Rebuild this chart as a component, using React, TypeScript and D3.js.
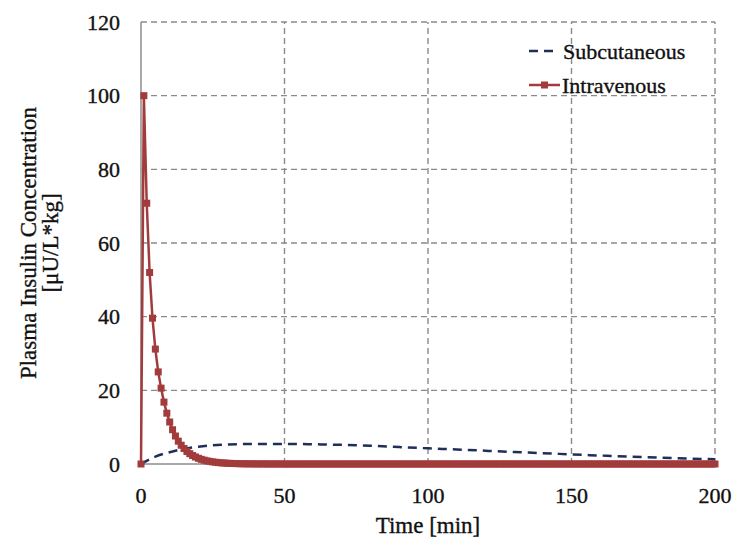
import React from "react";
import * as d3 from "d3";

// time axis ticks and value ticks
const xTicks = [0, 50, 100, 150, 200];
const yTicks = [0, 20, 40, 60, 80, 100, 120];

// subcutaneous curve, read every 5-10 min
const subTimes = [0, 5, 10, 15, 20, 25, 30, 40, 50, 60, 70, 80, 90, 100, 110, 120, 130, 140, 150, 160, 170, 180, 190, 200];
const subValues = [0, 2.0, 3.2, 4.1, 4.7, 5.1, 5.3, 5.45, 5.45, 5.35, 5.2, 4.95, 4.6, 4.25, 3.95, 3.6, 3.25, 2.95, 2.6, 2.3, 2.0, 1.75, 1.5, 1.3];

// intravenous curve, one marker per minute (0..200)
const ivValues = [
  0, 100, 70.8, 52, 39.6, 31.2, 25, 20.6, 16.8, 13.8,
  11.4, 9.3, 7.6, 6.2, 5.1, 4.2, 3.4, 2.8, 2.3, 1.9,
  1.55, 1.27, 1.04, 0.85, 0.7, 0.57, 0.47, 0.38, 0.31, 0.26,
  0.21, 0.17, 0.14, 0.11, 0.09, 0.07, 0.06, 0.05, 0.04, 0.03,
  0.03, 0.02, 0.02, 0.02, 0.01, 0.01, 0.01, 0.01, 0.01, 0.01,
  0, 0, 0, 0, 0, 0, 0, 0, 0, 0,
  0, 0, 0, 0, 0, 0, 0, 0, 0, 0,
  0, 0, 0, 0, 0, 0, 0, 0, 0, 0,
  0, 0, 0, 0, 0, 0, 0, 0, 0, 0,
  0, 0, 0, 0, 0, 0, 0, 0, 0, 0,
  0, 0, 0, 0, 0, 0, 0, 0, 0, 0,
  0, 0, 0, 0, 0, 0, 0, 0, 0, 0,
  0, 0, 0, 0, 0, 0, 0, 0, 0, 0,
  0, 0, 0, 0, 0, 0, 0, 0, 0, 0,
  0, 0, 0, 0, 0, 0, 0, 0, 0, 0,
  0, 0, 0, 0, 0, 0, 0, 0, 0, 0,
  0, 0, 0, 0, 0, 0, 0, 0, 0, 0,
  0, 0, 0, 0, 0, 0, 0, 0, 0, 0,
  0, 0, 0, 0, 0, 0, 0, 0, 0, 0,
  0, 0, 0, 0, 0, 0, 0, 0, 0, 0,
  0,
];
const ivTimes = ivValues.map((_, i) => i);

const width = 734;
const height = 544;
const RED = "#a23b3b";
const NAVY = "#1f2f5a";
const GRID = "#8a8a8a";
const FONT = '"Liberation Serif", "DejaVu Serif", serif';

// slightly heavier text, like the scanned original
const txt = { fill: "#111", stroke: "#111", strokeWidth: 0.35 };

const App = () => {
  const xScale = d3.scaleLinear().domain([0, 200]).range([141, 715]);
  const yScale = d3.scaleLinear().domain([0, 120]).range([464, 22]);

  const subLine = d3
    .line<number>()
    .x((d, i) => xScale(subTimes[i]))
    .y((d) => yScale(d))
    .curve(d3.curveMonotoneX);

  const ivLine = d3
    .line<number>()
    .x((d, i) => xScale(ivTimes[i]))
    .y((d) => yScale(d));

  const [x0, x1] = xScale.range();
  const [y0, y1] = yScale.range();

  return (
    <div style={{ position: "absolute", left: 0, top: 0 }}>
      <svg width={width} height={height} style={{ display: "block", background: "#fff", fontFamily: FONT }}>
        {/* grid */}
        {yTicks.filter((t) => t > 0).map((t) => (
          <line key={"gy" + t} x1={x0} x2={x1} y1={yScale(t)} y2={yScale(t)} stroke={GRID} strokeWidth={1.4} strokeDasharray="6,4" />
        ))}
        {xTicks.filter((t) => t > 0).map((t) => (
          <line key={"gx" + t} x1={xScale(t)} x2={xScale(t)} y1={y0} y2={y1} stroke={GRID} strokeWidth={1.4} strokeDasharray="6,4" />
        ))}
        {/* axes */}
        <line x1={x0} x2={x0} y1={y0} y2={y1} stroke="#8c8c8c" strokeWidth={1.5} />
        <line x1={x0} x2={x1} y1={y0} y2={y0} stroke="#8c8c8c" strokeWidth={1.5} />

        {/* tick labels */}
        {yTicks.map((t) => (
          <text key={"ty" + t} x={120} y={yScale(t) + 7.5} textAnchor="end" fontSize={22} {...txt}>
            {t}
          </text>
        ))}
        {xTicks.map((t) => (
          <text key={"tx" + t} x={xScale(t)} y={503} textAnchor="middle" fontSize={22} {...txt}>
            {t}
          </text>
        ))}

        {/* axis titles */}
        <text x={428} y={533} textAnchor="middle" fontSize={23} {...txt}>
          Time [min]
        </text>
        <g transform="translate(0,243) rotate(-90)">
          <text x={0} y={36} textAnchor="middle" fontSize={23} {...txt}>
            Plasma Insulin Concentration
          </text>
          <text x={0} y={58} textAnchor="middle" fontSize={23} {...txt}>
            [μU/L*kg]
          </text>
        </g>

        {/* series */}
        <path d={subLine(subValues) || ""} fill="none" stroke={NAVY} strokeWidth={2.5} strokeDasharray="9,6" />
        <path d={ivLine(ivValues) || ""} fill="none" stroke={RED} strokeWidth={2.5} />
        {ivValues.map((v, i) => (
          <rect key={"m" + i} x={xScale(ivTimes[i]) - 3.5} y={yScale(v) - 3.5} width={7} height={7} fill={RED} />
        ))}

        {/* legend */}
        <line x1={529} x2={555} y1={51} y2={51} stroke={NAVY} strokeWidth={2.5} strokeDasharray="9,6" />
        <text x={563} y={59} fontSize={22} {...txt}>
          Subcutaneous
        </text>
        <line x1={529} x2={560} y1={85} y2={85} stroke={RED} strokeWidth={2.5} />
        <rect x={541} y={81.5} width={7} height={7} fill={RED} />
        <text x={562} y={93} fontSize={22} {...txt}>
          Intravenous
        </text>
      </svg>
    </div>
  );
};

export default App;
